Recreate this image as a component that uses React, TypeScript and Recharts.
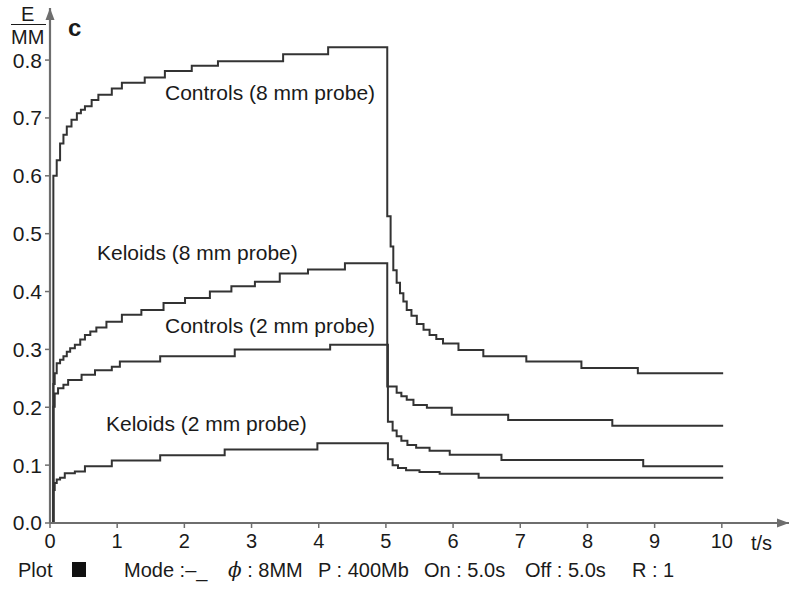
import React from "react";
import { LineChart, Line, XAxis, YAxis, ReferenceDot } from "recharts";

// [t (s), E/MM] step points
const controls8mm: [number, number][] = [
  [0, 0], [0.05, 0.6], [0.1, 0.627], [0.15, 0.656], [0.2, 0.671], [0.25, 0.685], [0.32, 0.697],
  [0.4, 0.708], [0.46, 0.714], [0.52, 0.72], [0.62, 0.731], [0.72, 0.74], [0.92, 0.751],
  [1.07, 0.761], [1.41, 0.77], [1.71, 0.781], [2.11, 0.79], [2.5, 0.798], [3.47, 0.81],
  [4.14, 0.822], [5.02, 0.53], [5.07, 0.478], [5.11, 0.437], [5.16, 0.415], [5.21, 0.397],
  [5.26, 0.383], [5.31, 0.368], [5.38, 0.358], [5.46, 0.344], [5.56, 0.334], [5.65, 0.325],
  [5.75, 0.318], [5.85, 0.31], [6.08, 0.299], [6.45, 0.288], [7.09, 0.279], [7.91, 0.268],
  [8.75, 0.259], [10.02, 0.259],
];

const keloids8mm: [number, number][] = [
  [0, 0], [0.05, 0.24], [0.07, 0.259], [0.1, 0.276], [0.15, 0.282], [0.2, 0.288], [0.25, 0.296],
  [0.3, 0.302], [0.37, 0.308], [0.45, 0.317], [0.52, 0.325], [0.6, 0.331], [0.69, 0.338],
  [0.84, 0.348], [1.07, 0.36], [1.36, 0.368], [1.69, 0.38], [2.01, 0.389], [2.38, 0.4],
  [2.7, 0.409], [3.05, 0.417], [3.42, 0.431], [3.84, 0.438], [4.39, 0.449], [5.02, 0.236],
  [5.16, 0.225], [5.23, 0.219], [5.31, 0.213], [5.41, 0.204], [5.61, 0.199], [5.98, 0.187],
  [6.82, 0.178], [8.37, 0.168], [10.02, 0.168],
];

const controls2mm: [number, number][] = [
  [0, 0], [0.05, 0.201], [0.07, 0.224], [0.12, 0.233], [0.2, 0.239], [0.27, 0.247],
  [0.47, 0.256], [0.67, 0.264], [0.92, 0.27], [1.04, 0.279], [1.64, 0.288], [2.75, 0.3],
  [4.17, 0.308], [5.03, 0.175], [5.1, 0.16], [5.16, 0.15], [5.23, 0.142], [5.32, 0.135],
  [5.45, 0.13], [5.65, 0.125], [5.95, 0.118], [6.72, 0.109], [8.83, 0.098], [10.02, 0.098],
];

const keloids2mm: [number, number][] = [
  [0, 0], [0.05, 0.057], [0.07, 0.069], [0.1, 0.075], [0.15, 0.078], [0.22, 0.086],
  [0.37, 0.089], [0.52, 0.098], [0.92, 0.108], [1.64, 0.117], [2.6, 0.127], [3.98, 0.138],
  [5.03, 0.11], [5.1, 0.1], [5.18, 0.095], [5.3, 0.091], [5.5, 0.088], [5.8, 0.085],
  [6.38, 0.078], [10.02, 0.078],
];

const xTicks = [0, 1, 2, 3, 4, 5, 6, 7, 8, 9, 10];
const yTicks = [0, 0.1, 0.2, 0.3, 0.4, 0.5, 0.6, 0.7, 0.8];

const curveLabels = [
  { text: "Controls (8 mm probe)", x: 165, y: 92 },
  { text: "Keloids (8 mm probe)", x: 97, y: 252 },
  { text: "Controls (2 mm probe)", x: 165, y: 325 },
  { text: "Keloids (2 mm probe)", x: 106, y: 423 },
];

const footer = [
  { text: "Plot", x: 18 },
  { text: "Mode :–_", x: 124 },
  { text: "P : 400Mb", x: 318 },
  { text: "On : 5.0s", x: 424 },
  { text: "Off : 5.0s", x: 525 },
  { text: "R : 1", x: 632 },
];

const toRows = (pts: [number, number][]) => pts.map(([t, v]) => ({ t, v }));

const AXIS = "#6e6e6e";
const INK = "#333";
const FONT = '"Liberation Sans", Arial, sans-serif';

const ArrowRight = (p: any) => (
  <path d={`M${p.cx},${p.cy} l-12,-4.5 l0,9 z`} fill={AXIS} />
);
const ArrowUp = (p: any) => (
  <path d={`M${p.cx},${p.cy} l-4.5,12 l9,0 z`} fill={AXIS} />
);

const abs = (x: number, y: number, extra: React.CSSProperties = {}): React.CSSProperties => ({
  position: "absolute",
  left: x,
  top: y,
  transform: "translateY(-50%)",
  whiteSpace: "nowrap",
  lineHeight: 1,
  ...extra,
});

export default function App() {
  return (
    <div style={{ position: "absolute", left: 0, top: 0, width: 797, height: 589, background: "#fff", fontFamily: FONT, color: "#1a1a1a" }}>
      <LineChart width={797} height={589} margin={{ top: 8, right: 8, bottom: 0, left: 0 }}>
        <XAxis
          type="number"
          dataKey="t"
          domain={[0, 11]}
          ticks={xTicks}
          allowDataOverflow
          height={66}
          axisLine={{ stroke: AXIS, strokeWidth: 2.2 }}
          tickLine={{ stroke: AXIS, strokeWidth: 1.5 }}
          tickSize={5}
          tickMargin={6}
          tick={{ fill: "#1a1a1a", fontSize: 20, fontFamily: FONT }}
        />
        <YAxis
          type="number"
          dataKey="v"
          domain={[0, 0.89]}
          ticks={yTicks}
          allowDataOverflow
          width={50}
          axisLine={{ stroke: AXIS, strokeWidth: 2.2 }}
          tickLine={{ stroke: AXIS, strokeWidth: 1.5 }}
          tickSize={5}
          tickMargin={3}
          tickFormatter={(v: number) => v.toFixed(1)}
          tick={{ fill: "#1a1a1a", fontSize: 21, fontFamily: FONT }}
        />
        <Line data={toRows(controls8mm)} dataKey="v" type="stepAfter" stroke={INK} strokeWidth={2} dot={false} isAnimationActive={false} />
        <Line data={toRows(keloids8mm)} dataKey="v" type="stepAfter" stroke={INK} strokeWidth={2} dot={false} isAnimationActive={false} />
        <Line data={toRows(controls2mm)} dataKey="v" type="stepAfter" stroke={INK} strokeWidth={2} dot={false} isAnimationActive={false} />
        <Line data={toRows(keloids2mm)} dataKey="v" type="stepAfter" stroke={INK} strokeWidth={2} dot={false} isAnimationActive={false} />
        <ReferenceDot x={11} y={0} ifOverflow="visible" shape={ArrowRight} />
        <ReferenceDot x={0} y={0.89} ifOverflow="visible" shape={ArrowUp} />
      </LineChart>

      {/* y axis unit E/MM and panel letter */}
      <div style={abs(21, 14, { fontSize: 20 })}>E</div>
      <div style={{ position: "absolute", left: 11, top: 24, width: 35, borderTop: "1.5px solid #1a1a1a" }} />
      <div style={abs(11, 37, { fontSize: 20 })}>MM</div>
      <div style={abs(68, 28, { fontSize: 24, fontWeight: "bold" })}>c</div>

      {curveLabels.map((l) => (
        <div key={l.text} style={abs(l.x, l.y, { fontSize: 21 })}>{l.text}</div>
      ))}

      <div style={abs(751, 543, { fontSize: 20 })}>t/s</div>

      {footer.map((f) => (
        <div key={f.text} style={abs(f.x, 570, { fontSize: 20 })}>{f.text}</div>
      ))}
      <div style={abs(228, 570, { fontSize: 20 })}>
        <span style={{ fontStyle: "italic", fontFamily: '"DejaVu Serif", serif' }}>ϕ</span> : 8MM
      </div>
      <div style={{ position: "absolute", left: 72, top: 562, width: 14, height: 15, background: "#111" }} />
    </div>
  );
}
